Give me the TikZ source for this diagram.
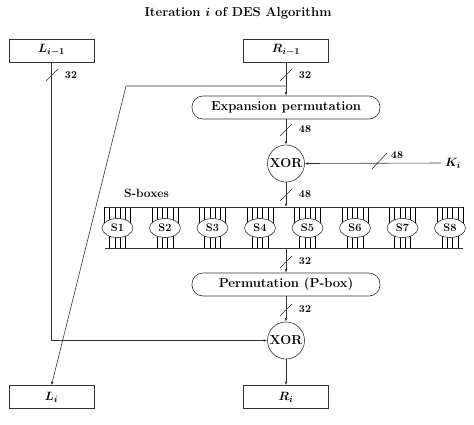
\documentclass[tikz,border=0pt]{standalone}
\usepackage{fontspec}
\usetikzlibrary{arrows.meta,shapes.geometric,backgrounds}
\begin{document}
\begin{tikzpicture}[x=1pt,y=-1pt,
  line width=0.6pt, draw=black!80,
  every node/.style={font=\fontsize{13}{15}\selectfont\bfseries\boldmath},
  regbox/.style={draw, minimum width=85pt, minimum height=23pt, inner sep=0pt},
  opbox/.style={draw, rounded corners=11pt, minimum width=188pt, minimum height=23pt, inner sep=0pt},
  xorc/.style={draw, circle, minimum size=37pt, inner sep=0pt},
  sbx/.style={draw, ellipse, fill=white, minimum width=31pt, minimum height=19pt, inner sep=0pt, font=\fontsize{11}{13}\selectfont\bfseries},
  lbl/.style={font=\fontsize{10.5}{12}\selectfont\bfseries, inner sep=0pt},
  arr/.style={-{Latex[length=3.5pt,width=2.6pt]}},
  comb/.style={line width=0.5pt}
]
\useasboundingbox (0,0) rectangle (474,424);
% title
\node (title) at (238,13) {Iteration $i$ of DES Algorithm};
% registers
\node[regbox] (Lp) at (51.5,50.5) {$L_{i-1}$};
\node[regbox] (Rp) at (286,50.5) {$R_{i-1}$};
\node[regbox] (Li) at (51.5,397) {$L_i$};
\node[regbox] (Ri) at (286,397) {$R_i$};
% operations
\node[opbox] (Exp) at (286,107.5) {Expansion permutation};
\node[xorc] (X1) at (286,163.5) {XOR};
\node (Ki) at (453,163) {$K_i$};
\node[opbox] (Perm) at (286,284.5) {Permutation (P-box)};
\node[xorc] (X2) at (286,340.5) {XOR};
% S-boxes
\node[font=\fontsize{12}{14}\selectfont\bfseries] (sblabel) at (146.5,193) {S-boxes};
\foreach \k in {1,...,8} {
  \node[sbx] (S\k) at ({117.5+47.5*(\k-1)},228) {S\k};
}
\coordinate (bandTL) at (104.5,207);
\coordinate (bandTR) at (463,207);
\coordinate (bandBL) at (104.5,248);
\coordinate (bandBR) at (463,248);
\coordinate (bt) at (286,207);
\coordinate (bb) at (286,248);
\draw (bandTL) -- (bandTR);
\draw (bandBL) -- (bandBR);
\begin{scope}[on background layer]
\foreach \k in {1,...,8} {
  \foreach \d in {-13,-7.8,-2.6,2.6,7.8,13}
    \draw[comb] ({117.5+47.5*(\k-1)+\d},207) -- ++(0,21);
  \foreach \d in {-7.8,-2.6,2.6,7.8}
    \draw[comb] ({117.5+47.5*(\k-1)+\d},228) -- ++(0,20);
}
\end{scope}
% connectors
\coordinate (br) at (286,86);
\coordinate (bend) at (126,86);
\draw[arr] (Lp.south) |- (X2.west);
\draw[arr] (Rp.south) -- (Exp.north);
\draw[arr] (br) -- (bend) -- (Li.north);
\draw[arr] (Exp.south) -- (X1.north);
\draw[arr] (Ki.west) -- (X1.east);
\draw[arr] (X1.south) -- (bt);
\draw[arr] (bb) -- (Perm.north);
\draw[arr] (Perm.south) -- (X2.north);
\draw[arr] (X2.south) -- (Ri.north);
% bus width marks
\draw (46,81) -- (58,69);   \node[lbl] (w1) at (71,75) {32};
\draw (280,81) -- (292,69); \node[lbl] (w2) at (305,75) {32};
\draw (280,136) -- (292,124); \node[lbl] (w3) at (305,129) {48};
\draw (372,169) -- (387,153); \node[lbl] (w4) at (397,155) {48};
\draw (280,201) -- (292,189); \node[lbl] (w5) at (305,194) {48};
\draw (280,268) -- (292,256); \node[lbl] (w6) at (305,261) {32};
\draw (280,316) -- (292,304); \node[lbl] (w7) at (305,309) {32};
\end{tikzpicture}
\end{document}
